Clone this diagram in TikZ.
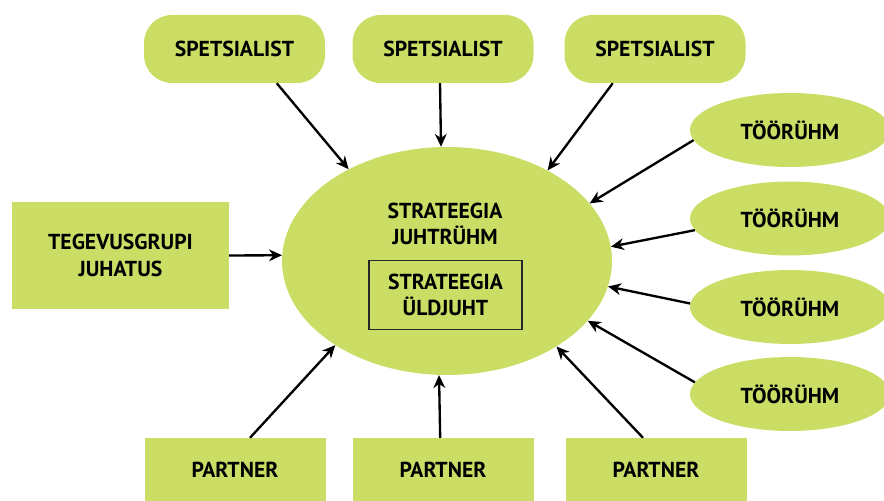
\documentclass[tikz,border=0pt]{standalone}
\usepackage{fontspec}
\setmainfont{PT Sans}
\usetikzlibrary{arrows.meta, shapes.geometric}

\definecolor{leaf}{RGB}{204,221,102}

\begin{document}
\begin{tikzpicture}[
    x=0.3mm, y=-0.3mm,
    >={Stealth[length=11pt, width=10pt, inset=3.5pt]},
    % Styles
    base/.style={ % Common look of all boxes
        fill=leaf,
        text=black,
        font=\fontsize{18.5}{22.5}\selectfont\bfseries,
        align=center,
        inner sep=0pt
    },
    expert/.style={ % Rounded boxes on top
        base,
        rectangle,
        rounded corners=8.4mm,
        minimum width=181*0.3mm,
        minimum height=68*0.3mm
    },
    group/.style={ % Ellipses on the right
        base,
        ellipse,
        minimum width=200*0.3mm,
        minimum height=74*0.3mm
    },
    partner/.style={ % Plain boxes
        base,
        rectangle,
        minimum width=181*0.3mm,
        minimum height=64*0.3mm
    },
    arrow/.style={
        ->,
        line width=2pt
    }
]
    \clip (0,0) rectangle (884,501);

    % Central group
    \node[base, ellipse, minimum width=330*0.3mm, minimum height=228*0.3mm] (lead) at (447,261) {};
    \node[base, fill=none] (leadtext) at (445,224) {STRATEEGIA\\JUHTRÜHM};
    \node[base, draw=black!85, line width=0.9pt, minimum width=153*0.3mm, minimum height=69*0.3mm] (head) at (445.5,295) {STRATEEGIA\\ÜLDJUHT};

    % Specialists
    \node[expert] (sp1) at (234.5,49) {SPETSIALIST};
    \node[expert] (sp2) at (443,49) {SPETSIALIST};
    \node[expert] (sp3) at (655,49) {SPETSIALIST};

    % Working groups
    \node[group] (wg1) at (790,130) {TÖÖRÜHM};
    \node[group] (wg2) at (790,218.5) {TÖÖRÜHM};
    \node[group] (wg3) at (790,307) {TÖÖRÜHM};
    \node[group] (wg4) at (790,394) {TÖÖRÜHM};

    % Board
    \node[partner, minimum width=217*0.3mm, minimum height=107*0.3mm] (board) at (120.5,255.5) {TEGEVUSGRUPI\\JUHATUS};

    % Partners
    \node[partner] (p1) at (235,470) {PARTNER};
    \node[partner] (p2) at (443,470) {PARTNER};
    \node[partner] (p3) at (656,470) {PARTNER};

    % Arrows into the central group
    \draw[arrow] (sp1.-39.3) -- (lead.137.6);
    \draw[arrow] (sp2.-95) -- (lead.93.5);
    \draw[arrow] (sp3.-141) -- (lead.42.6);
    \draw[arrow] (wg1.186.5) -- (lead.22.6);
    \draw[arrow] (wg2.187.5) -- (lead.5.9);
    \draw[arrow] (wg3.178) -- (lead.-9.2);
    \draw[arrow] (wg4.173.4) -- (lead.-23.4);
    \draw[arrow] (board.east) -- (lead.178);
    \draw[arrow] (p1.65) -- (lead.217.8);
    \draw[arrow] (p2.95) -- (lead.266.5);
    \draw[arrow] (p3.112) -- (lead.-38);
\end{tikzpicture}
\end{document}
